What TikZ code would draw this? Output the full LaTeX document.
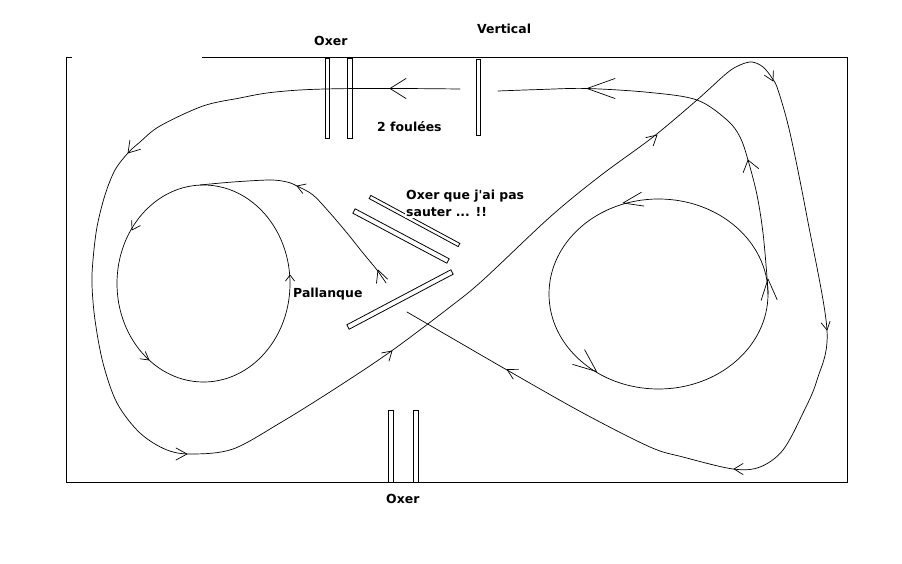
\documentclass[tikz,border=0pt]{standalone}
\usepackage{fontspec}
\setmainfont{DejaVu Sans}[Ligatures=TeXOff]
\usetikzlibrary{calc}
\tikzset{
  route/.style={line width=0.7bp, line join=round, line cap=round},
  fence/.style={line width=0.8bp},
  frame/.style={line width=1bp},
  lbl/.style={anchor=base west, inner sep=0pt, font=\fontsize{12.5}{14}\selectfont\bfseries},
  pics/chev/.style 2 args={code={\draw[route] (-#1,#2) -- (0,0) -- (-#1,-#2);}}
}
\newcommand{\polebar}[3]{\draw[fence] ($#1!#3!90:#2$) -- ($#2!#3!-90:#1$) -- ($#2!#3!90:#1$) -- ($#1!#3!-90:#2$) -- cycle;}
\begin{document}
\begin{tikzpicture}[x=1bp,y=-1bp]
\useasboundingbox (0,0) rectangle (902,564);
% arena
\draw[frame] (72,58) -- (66,58) -- (66,482) -- (847,482) -- (847,58) -- (202,58);
% fences
\draw[fence] (325,58) rectangle (329,138);
\draw[fence] (347,58) rectangle (352,138);
\draw[fence] (476,59) rectangle (480,135);
\draw[fence] (388,410) rectangle (393,482);
\draw[fence] (413,410) rectangle (418,482);
\polebar{(370,197)}{(459,245)}{1.8bp}
\polebar{(354,211)}{(448,261)}{2.5bp}
\polebar{(348,327)}{(452,272)}{2.5bp}
% labels
\node[lbl] (oxtop) at (314,46) {Oxer};
\node[lbl] (vert) at (477,34) {Vertical};
\node[lbl] (foul) at (377,132) {2 foulées};
\node[lbl] (oxq1) at (406,200) {Oxer que j'ai pas};
\node[lbl, fill=white, inner sep=1bp] (oxq2) at (405,217) {sauter ... !!};
\node[lbl] (pall) at (293,297) {Pallanque};
\node[lbl] (oxbot) at (386,503) {Oxer};
% circles
\draw[route] (658.5,294) ellipse [x radius=109.5bp, y radius=95bp];
\draw[route] (203.5,283.5) ellipse [x radius=86.5bp, y radius=98.5bp];
% exit of right circle to the vertical
\draw[route] plot[smooth, tension=0.55] coordinates {(768,294) (767,277) (763,233) (757,195) (748,160) (740,137) (727,120) (697,100) (650,92.5) (587,88.5) (540,89.5) (498,91)};
% main figure-eight track
\draw[route] plot[smooth, tension=0.55] coordinates {(460,89) (400,88.5) (340,88.7) (300,90) (267,93) (240,98) (203,106) (160,126) (140,142) (128,153) (115,170) (105,195) (97,227) (93,260) (92,285) (95,320) (103,363) (117,403) (140,433) (167,450) (193,454) (233,449) (280,423) (333,390) (390,352) (450,307) (483,280) (550,217) (600,176) (653,137) (697,100) (727,73) (740,65) (752,62) (763,67) (772,78) (778,90) (790,133) (807,217) (827,330) (817,380) (803,413) (783,450) (760,467) (733,469) (683,457) (650,447) (583,413) (507,370) (450,337) (407,312)};
% approach to the left circle
\draw[route] plot[smooth, tension=0.55] coordinates {(200,185) (233,182) (270,180) (287,182) (297,186) (313,195) (330,213) (347,233) (363,253) (377,270) (386,283)};
% arrows
\pic[rotate=180] at (587,88.5) {chev={28}{10}};
\pic[rotate=180] at (390,88.5) {chev={16}{10}};
\pic[rotate=229] at (128,153) {chev={11}{7}};
\pic[rotate=0] at (187,454) {chev={11}{6}};
\pic[rotate=42] at (392,351) {chev={9}{5.5}};
\pic[rotate=42] at (657,135) {chev={10}{5.5}};
\pic[rotate=-63] at (773,81) {chev={9}{5}};
\pic[rotate=-80] at (827,330) {chev={8}{4.5}};
\pic[rotate=180] at (734,469) {chev={9}{5.5}};
\pic[rotate=152] at (507,369.5) {chev={10}{5.5}};
\pic[rotate=191] at (623,203) {chev={20}{7}};
\pic[rotate=-39] at (596.5,371.5) {chev={23}{9.5}};
\pic[rotate=105] at (748,160) {chev={11}{8}};
\pic[rotate=93] at (768,279) {chev={21}{8}};
\pic[rotate=240] at (132,230) {chev={8}{5}};
\pic[rotate=-37] at (149,360) {chev={8}{4.5}};
\pic[rotate=90] at (290,275) {chev={6}{4.5}};
\pic[rotate=160] at (297,186) {chev={8}{5}};
\pic[rotate=110] at (378,270) {chev={12}{6}};
\end{tikzpicture}
\end{document}
